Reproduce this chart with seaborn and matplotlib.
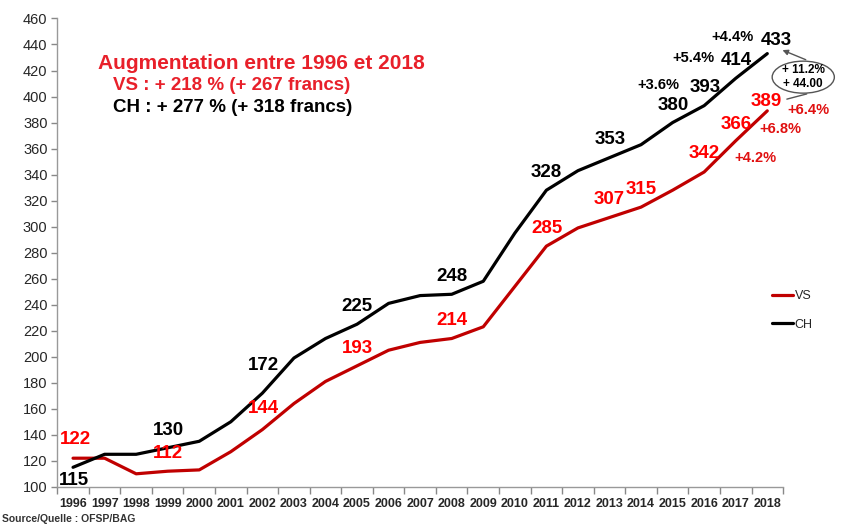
"""Prime moyenne assurance maladie VS vs CH, 1996-2018."""

import matplotlib.pyplot as plt
from matplotlib.patches import Ellipse
from matplotlib.ticker import FixedLocator
import seaborn as sns
import pandas as pd

years = list(range(1996, 2019))
vs = [122, 122, 110, 112, 113, 127, 144, 164, 181, 193, 205, 211, 214, 223,
      254, 285, 299, 307, 315, 328, 342, 366, 389]
ch = [115, 125, 125, 130, 135, 150, 172, 199, 214, 225, 241, 247, 248, 258,
      295, 328, 343, 353, 363, 380, 393, 414, 433]

# which points get a value label
vs_labelled = [1996, 1999, 2002, 2005, 2008, 2011, 2013, 2014, 2016, 2017, 2018]
ch_labelled = [1996, 1999, 2002, 2005, 2008, 2011, 2013, 2015, 2016, 2017, 2018]
vs_growth = ["+4.2%", "+6.8%", "+6.4%"]
ch_growth = ["+3.6%", "+5.4%", "+4.4%"]
box_text = "+ 11.2%\n+ 44.00"

RED_LINE = "#C00000"
RED_TEXT = "#FF0000"

sns.set_theme(style="white")
plt.rcParams["font.family"] = ["Liberation Sans", "DejaVu Sans"]

df = pd.DataFrame({
    "year": years * 2,
    "prime": vs + ch,
    "serie": ["VS"] * len(years) + ["CH"] * len(years),
})
df["pos"] = df["year"] - years[0]

fig = plt.figure(figsize=(8.42, 5.28), dpi=100)
ax = fig.add_axes([0.068, 0.078, 0.862, 0.887])
sns.lineplot(data=df, x="pos", y="prime", hue="serie", hue_order=["VS", "CH"],
             palette={"VS": RED_LINE, "CH": "black"}, lw=2.3, ax=ax)

ax.set_xlim(-0.5, len(years) - 0.5)
ax.set_ylim(100, 460)
ax.set_yticks(range(100, 461, 20))
ax.set_xticks(range(len(years)))
ax.set_xticklabels([str(y) for y in years], fontsize=9, fontweight="bold")
ax.xaxis.set_minor_locator(FixedLocator([i - 0.5 for i in range(len(years) + 1)]))
ax.tick_params(axis="x", which="major", length=0, pad=8)
ax.tick_params(axis="x", which="minor", length=5, color="#888888", width=1, direction="out", bottom=True)
ax.tick_params(axis="y", length=4, color="#888888", width=1, direction="out", left=True, labelsize=10.5, pad=3)
ax.set_xlabel("")
ax.set_ylabel("")
for side in ["top", "right"]:
    ax.spines[side].set_visible(False)
for side in ["left", "bottom"]:
    ax.spines[side].set_color("#999999")
    ax.spines[side].set_linewidth(1)

# value labels (layout positions in data coords)
ch_pos = [(0.03, 104.6), (3.02, 143), (6.03, 193.6), (9.01, 238.5), (12.02, 262),
          (15.01, 341.8), (17.02, 367), (19.02, 393), (20.03, 407), (21.03, 427.5),
          (22.28, 443)]
vs_pos = [(0.09, 136), (3.02, 125.7), (6.03, 160.3), (9.01, 206.5), (12.02, 227.7),
          (15.01, 298.8), (17.0, 321), (18.02, 328.8), (20.0, 356), (21.03, 378.2),
          (21.98, 396.2)]
for yr, (x, y) in zip(ch_labelled, ch_pos):
    ax.text(x, y, str(ch[years.index(yr)]), ha="center", va="center",
            fontsize=13.5, fontweight="bold", color="black", clip_on=False)
for yr, (x, y) in zip(vs_labelled, vs_pos):
    ax.text(x, y, str(vs[years.index(yr)]), ha="center", va="center",
            fontsize=13.5, fontweight="bold", color=RED_TEXT, clip_on=False)

for txt, (x, y) in zip(ch_growth, [(18.55, 409), (19.66, 430), (20.9, 446)]):
    ax.text(x, y, txt, ha="center", va="center", fontsize=10.5,
            fontweight="bold", color="black", clip_on=False)
for txt, (x, y) in zip(vs_growth, [(21.61, 352.6), (22.4, 375), (23.3, 389.8)]):
    ax.text(x, y, txt, ha="center", va="center", fontsize=10.5,
            fontweight="bold", color="#E01010", clip_on=False)

# ellipse call-out
ax.add_patch(Ellipse((23.14, 414.9), 1.97, 24.6, fill=False, edgecolor="#555555",
                     lw=1, clip_on=False))
ax.text(23.14, 415, box_text, ha="center", va="center", fontsize=8.5,
        fontweight="bold", color="black", linespacing=1.3, clip_on=False)
ax.annotate("", xy=(22.4, 436.5), xytext=(23.3, 427.5),
            arrowprops=dict(arrowstyle="-|>", color="#555555", lw=1, mutation_scale=8),
            annotation_clip=False)
ax.plot([23.25, 22.62], [402, 398], color="#555555", lw=1, clip_on=False)

# summary text
fig.text(98 / 842, 1 - 63 / 528, "Augmentation entre 1996 et 2018", fontsize=15,
         fontweight="bold", color="#E8202A", va="center")
fig.text(113 / 842, 1 - 86 / 528, "VS : + 218 % (+ 267 francs)", fontsize=13.5,
         fontweight="bold", color="#E8202A", va="center")
fig.text(113 / 842, 1 - 108 / 528, "CH : + 277 % (+ 318 francs)", fontsize=13.5,
         fontweight="bold", color="black", va="center")
fig.text(0.002, 1 - 519 / 528, "Source/Quelle : OFSP/BAG", fontsize=7.5,
         fontweight="bold", color="#333333", va="center")

leg = ax.legend(loc="upper left", bbox_to_anchor=(0.978, 0.43), frameon=False,
                handlelength=1.7, handletextpad=0.1, labelspacing=1.3, fontsize=9,
                borderaxespad=0)
for line in leg.get_lines():
    line.set_linewidth(2.3)

fig.savefig("out.png", dpi=100)
